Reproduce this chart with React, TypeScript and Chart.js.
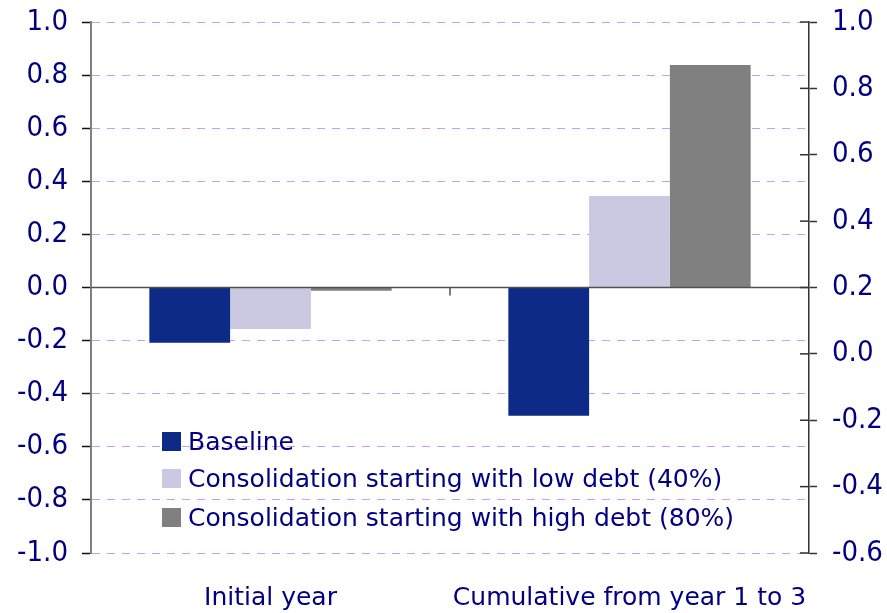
import React, { useEffect, useRef } from "react";
import { Chart, registerables } from "chart.js";

Chart.register(...registerables);

const categories = ["Initial year", "Cumulative from year 1 to 3"];
const seriesNames = [
  "Baseline",
  "Consolidation starting with low debt (40%)",
  "Consolidation starting with high debt (80%)",
];
const baseline = [-0.208, -0.483];
const lowDebt = [-0.156, 0.345];
const highDebt = [-0.012, 0.838];
const seriesColors = ["#0d2b86", "#cbc9e1", "#808080"];

const leftMin = -1.0;
const leftMax = 1.0;
const rightMin = -0.6;
const rightMax = 1.0;
const tickStep = 0.2;

const TEXT = "#000080";
const TICK_FONT = "'DejaVu Sans Condensed', 'DejaVu Sans', sans-serif";
const LABEL_FONT = "'DejaVu Sans', sans-serif";

const overlayPlugin = {
  id: "overlay",
  afterDatasetsDraw(chart: any) {
    const { ctx, chartArea, scales } = chart;
    const y = scales.y;
    const x = scales.x;
    const y2 = scales.y2;
    const zy = y.getPixelForValue(0);
    ctx.save();
    ctx.strokeStyle = "#505050";
    ctx.lineWidth = 1.5;
    ctx.beginPath();
    ctx.moveTo(chartArea.left, zy);
    ctx.lineTo(chartArea.right, zy);
    ctx.stroke();
    for (let i = 0; i < categories.length - 1; i++) {
      const mx = (x.getPixelForTick(i) + x.getPixelForTick(i + 1)) / 2;
      ctx.beginPath();
      ctx.moveTo(mx, zy);
      ctx.lineTo(mx, zy + 8);
      ctx.stroke();
    }
    ctx.strokeStyle = "#333333";
    ctx.lineWidth = 1.5;
    y2.ticks.forEach((t: any) => {
      const py = y2.getPixelForValue(t.value);
      ctx.beginPath();
      ctx.moveTo(chartArea.right - 9, py);
      ctx.lineTo(chartArea.right, py);
      ctx.stroke();
    });
    ctx.restore();
  },
};

export default function App() {
  const ref = useRef<HTMLCanvasElement | null>(null);

  useEffect(() => {
    if (!ref.current) return;
    const data = [baseline, lowDebt, highDebt];
    const chart = new Chart(ref.current, {
      type: "bar",
      data: {
        labels: categories,
        datasets: seriesNames.map((name, i) => ({
          label: name,
          data: data[i],
          backgroundColor: seriesColors[i],
          borderWidth: 0,
          yAxisID: "y",
          xAxisID: "x",
          barPercentage: 1.0,
          categoryPercentage: 0.675,
        })),
      },
      plugins: [overlayPlugin],
      options: {
        responsive: false,
        animation: false,
        layout: { padding: { top: 22, left: 0, right: 0, bottom: 0 } },
        plugins: {
          legend: { display: false },
          tooltip: { enabled: false },
        },
        scales: {
          x: {
            type: "category",
            position: "bottom",
            grid: { display: false, drawTicks: false },
            border: { display: false },
            ticks: {
              color: TEXT,
              font: { family: LABEL_FONT, size: 25 },
              padding: 30,
              maxRotation: 0,
              autoSkip: false,
            },
            afterFit: (s: any) => {
              s.height = 60;
            },
          },
          y: {
            position: "left",
            min: leftMin,
            max: leftMax,
            ticks: {
              stepSize: tickStep,
              color: TEXT,
              font: { family: TICK_FONT, size: 29 },
              padding: 14,
              callback: (v: any) => Number(v).toFixed(1),
            },
            grid: {
              color: (c: any) =>
                c.tick && Math.abs(c.tick.value) < 1e-9 ? "rgba(0,0,0,0)" : "#cc99ff",
              lineWidth: 1,
              tickLength: 9,
              tickColor: "#111111",
              tickWidth: 1.5,
              tickBorderDash: [],
            },
            border: { display: true, color: "#808080", width: 2, dash: [8, 7] },
            afterFit: (s: any) => {
              s.width = 91;
              s.paddingTop = 0;
              s.paddingBottom = 0;
            },
          },
          y2: {
            position: "right",
            min: rightMin,
            max: rightMax,
            ticks: {
              stepSize: tickStep,
              color: TEXT,
              font: { family: TICK_FONT, size: 29 },
              padding: 15,
              callback: (v: any) => Number(v).toFixed(1),
            },
            grid: {
              drawOnChartArea: false,
              tickLength: 8,
              tickColor: "#333333",
              tickWidth: 1.5,
            },
            border: { display: true, color: "#333333", width: 1.5 },
            afterFit: (s: any) => {
              s.width = 78;
              s.paddingTop = 0;
              s.paddingBottom = 0;
            },
          },
        },
      } as any,
    });
    return () => chart.destroy();
  }, []);

  const legendCenters = [441.5, 478.5, 517.5];

  return (
    <div
      style={{
        position: "absolute",
        left: 0,
        top: 0,
        width: 887,
        height: 613,
        background: "#ffffff",
        overflow: "hidden",
      }}
    >
      <canvas ref={ref} width={887} height={613} />
      {seriesNames.map((name, i) => (
        <div
          key={name}
          style={{
            position: "absolute",
            left: 162,
            top: legendCenters[i] - 19,
            height: 38,
            display: "flex",
            alignItems: "center",
            whiteSpace: "nowrap",
          }}
        >
          <div
            style={{
              width: 19,
              height: 19,
              background: seriesColors[i],
              marginRight: 7,
            }}
          />
          <span
            style={{
              fontFamily: LABEL_FONT,
              fontSize: 25,
              color: TEXT,
              lineHeight: "38px",
            }}
          >
            {name}
          </span>
        </div>
      ))}
    </div>
  );
}
